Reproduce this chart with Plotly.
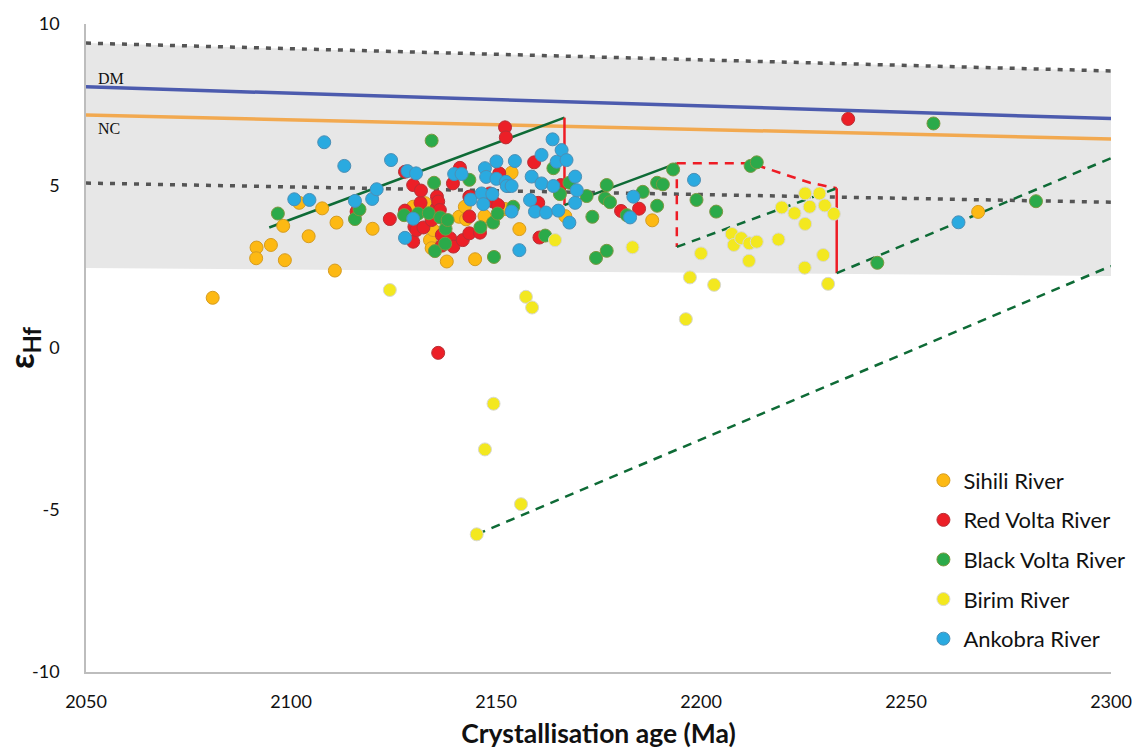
import plotly.graph_objects as go

# ---- Sample data: crystallisation age (Ma) and epsilon-Hf per river ----
sihili_age = [2080.9, 2091.6, 2095.1, 2091.5, 2098.1, 2098.5, 2102.0, 2104.3, 2107.6, 2110.7,
              2111.1, 2119.9, 2129.8, 2132.7, 2133.9, 2134.7, 2134.3, 2138.0, 2141.0, 2142.4,
              2142.7, 2144.9, 2147.2, 2152.2, 2153.8, 2155.7, 2166.9, 2188.1, 2267.6]
sihili_ehf = [1.55, 3.10, 3.18, 2.77, 3.77, 2.71, 4.48, 3.45, 4.31, 2.39,
              3.87, 3.68, 4.36, 4.47, 3.33, 3.64, 3.08, 2.67, 4.05, 4.36,
              3.97, 2.74, 4.07, 4.29, 5.41, 3.67, 4.07, 3.94, 4.20]

red_age = [2116.0, 2124.1, 2127.8, 2127.8, 2129.8, 2129.8, 2130.1, 2130.6, 2131.6, 2131.7,
           2132.3, 2134.3, 2135.5, 2135.6, 2135.9, 2135.9, 2136.3, 2136.8, 2136.8, 2138.8,
           2139.5, 2139.6, 2141.2, 2141.9, 2143.5, 2143.5, 2143.5, 2143.7, 2146.1, 2148.5,
           2149.3, 2150.5, 2150.8, 2152.2, 2152.4, 2159.3, 2160.3, 2160.6, 2165.8, 2180.5,
           2184.9, 2235.9]
red_ehf = [4.21, 3.98, 4.24, 5.44, 5.03, 3.28, 3.74, 3.64, 4.48, 4.86,
           3.72, 3.95, 4.31, 4.67, 4.52, -0.15, 4.26, 3.49, 3.16, 3.39,
           5.08, 3.13, 5.56, 3.33, 3.54, 4.06, 4.67, 4.67, 3.56, 4.77,
           4.52, 4.41, 5.39, 6.81, 6.50, 5.73, 4.48, 3.41, 5.03, 4.23,
           4.30, 7.07]

black_age = [2096.8, 2115.6, 2116.7, 2127.6, 2131.0, 2133.6, 2134.3, 2134.9, 2135.1, 2136.4,
             2137.6, 2137.7, 2138.2, 2143.5, 2146.2, 2149.3, 2149.5, 2150.4, 2154.2, 2162.0,
             2164.0, 2165.6, 2167.9, 2172.1, 2173.5, 2174.4, 2176.6, 2177.0, 2177.0, 2177.8,
             2181.9, 2185.8, 2189.3, 2189.3, 2190.7, 2193.2, 2198.9, 2203.7, 2212.1, 2213.6,
             2243.0, 2256.7, 2281.7]
black_ehf = [4.15, 3.98, 4.28, 4.10, 4.15, 4.16, 6.40, 5.10, 2.99, 4.03,
             3.22, 3.68, 3.95, 5.19, 3.73, 3.87, 2.81, 4.15, 4.36, 3.47,
             5.55, 4.75, 5.10, 4.69, 4.05, 2.78, 4.62, 5.03, 3.00, 4.50,
             4.10, 4.82, 5.10, 4.39, 5.05, 5.51, 4.57, 4.21, 5.62, 5.73,
             2.63, 6.93, 4.53]

birim_age = [2124.1, 2145.3, 2147.3, 2149.4, 2156.1, 2157.3, 2158.8, 2164.4, 2183.3, 2196.3,
             2197.3, 2200.0, 2203.2, 2207.5, 2208.0, 2209.8, 2211.7, 2211.8, 2213.6, 2218.9,
             2219.7, 2222.8, 2225.3, 2225.4, 2225.4, 2226.5, 2228.9, 2229.8, 2230.2, 2231.0,
             2232.4]
birim_ehf = [1.79, -5.75, -3.13, -1.72, -4.82, 1.58, 1.25, 3.33, 3.11, 0.89,
             2.18, 2.92, 1.95, 3.52, 3.18, 3.39, 2.69, 3.23, 3.28, 3.35,
             4.34, 4.16, 2.48, 3.83, 4.77, 4.36, 4.77, 2.87, 4.40, 1.98,
             4.14]

ankobra_age = [2100.8, 2104.5, 2108.1, 2113.0, 2115.6, 2119.8, 2120.9, 2124.4, 2127.8, 2128.4,
               2129.8, 2130.5, 2139.8, 2141.6, 2143.8, 2146.5, 2146.9, 2147.3, 2147.6, 2149.1,
               2150.1, 2150.1, 2152.4, 2152.6, 2153.8, 2153.8, 2154.6, 2155.7, 2158.3, 2158.7,
               2159.5, 2161.1, 2161.1, 2162.2, 2163.8, 2164.0, 2164.8, 2165.2, 2166.0, 2167.2,
               2167.9, 2169.3, 2169.3, 2169.7, 2182.7, 2183.5, 2198.3, 2262.8]
ankobra_ehf = [4.59, 4.57, 6.35, 5.62, 4.54, 4.60, 4.90, 5.80, 3.40, 5.46,
               3.99, 5.39, 5.37, 5.37, 4.58, 4.77, 4.44, 5.55, 5.28, 4.75,
               5.76, 5.22, 5.13, 5.00, 5.00, 4.21, 5.77, 3.02, 4.57, 5.29,
               4.21, 5.96, 5.08, 4.18, 6.44, 5.00, 5.75, 4.24, 6.11, 5.80,
               3.87, 5.29, 4.48, 4.87, 4.03, 4.67, 5.19, 3.88]

# ---- Reference curves (age, epsilon-Hf) ----
band_age = [2050, 2300, 2300, 2050, 2050]
band_ehf = [9.41, 8.55, 2.22, 2.47, 9.41]
upper_dot_age, upper_dot_ehf = [2050, 2300], [9.41, 8.55]
lower_dot_age, lower_dot_ehf = [2050, 2300], [5.09, 4.50]
dm_age, dm_ehf = [2050, 2300], [8.06, 7.08]
nc_age, nc_ehf = [2050, 2300], [7.19, 6.45]

trend1_age, trend1_ehf = [2094.7, 2166.7], [3.72, 7.11]
drop1_age, drop1_ehf = [2166.7, 2166.7], [7.11, 4.41]
trend2_age, trend2_ehf = [2166.7, 2194.1], [4.41, 5.70]
drop2_age, drop2_ehf = [2194.1, 2194.1], [5.70, 3.12]
arc_age = [2194.1, 2211.1, 2214.6, 2218.5, 2226.6, 2233.1]
arc_ehf = [5.70, 5.70, 5.60, 5.44, 5.10, 4.93]
trend3_age, trend3_ehf = [2194.1, 2233.1], [3.12, 4.93]
drop3_age, drop3_ehf = [2233.1, 2233.1], [4.93, 2.31]
trend4_age, trend4_ehf = [2233.1, 2300], [2.31, 5.86]
trend5_age, trend5_ehf = [2145.3, 2300], [-5.75, 2.53]

x_ticks = [2050, 2100, 2150, 2200, 2250, 2300]
y_ticks = [-10, -5, 0, 5, 10]
y_tick_labels = ["-10", "-5", "0", "5", "10"]

DARK_GREEN = "#0E6B36"
RED = "#EE1C25"

fig = go.Figure()

fig.add_trace(go.Scatter(x=band_age, y=band_ehf, mode="lines", fill="toself",
                         fillcolor="#E7E7E7", line=dict(width=0),
                         hoverinfo="skip", showlegend=False))


def line(xs, ys, color, width=2.5, dash="solid"):
    fig.add_trace(go.Scatter(x=xs, y=ys, mode="lines",
                             line=dict(color=color, width=width, dash=dash),
                             hoverinfo="skip", showlegend=False))


line(upper_dot_age, upper_dot_ehf, "#555555", 3.5, "5px,7px")
line(lower_dot_age, lower_dot_ehf, "#555555", 3.5, "5px,7px")
line(dm_age, dm_ehf, "#4C5BAE", 3.5)
line(nc_age, nc_ehf, "#F2A950", 3.5)

line(trend1_age, trend1_ehf, DARK_GREEN)
line(drop1_age, drop1_ehf, RED)
line(trend2_age, trend2_ehf, DARK_GREEN)
line(drop2_age, drop2_ehf, RED, dash="9px,7px")
line(arc_age, arc_ehf, RED, dash="9px,7px")
line(trend3_age, trend3_ehf, DARK_GREEN, dash="9px,7px")
line(drop3_age, drop3_ehf, RED)
line(trend4_age, trend4_ehf, DARK_GREEN, dash="9px,7px")
line(trend5_age, trend5_ehf, DARK_GREEN, dash="9px,7px")

series = [
    ("Sihili River", sihili_age, sihili_ehf, "#FDB913", "#D59C22"),
    ("Red Volta River", red_age, red_ehf, "#EC1F27", "#B83036"),
    ("Black Volta River", black_age, black_ehf, "#2BAA4A", "#7A9840"),
    ("Birim River", birim_age, birim_ehf, "#F3E81F", "#D8D8D0"),
    ("Ankobra River", ankobra_age, ankobra_ehf, "#2AAAE0", "#4D8FB5"),
]
for i, (name, xs, ys, fill, edge) in enumerate(series):
    fig.add_trace(go.Scatter(x=xs, y=ys, mode="markers", name=name,
                             legendgroup=f"g{i}",
                             marker=dict(size=13, color=fill,
                                         line=dict(color=edge, width=1))))

fig.add_annotation(x=2052.4, y=8.33, text="DM", showarrow=False, xanchor="left",
                   font=dict(family="Liberation Serif", size=16, color="#111111"))
fig.add_annotation(x=2052.4, y=6.79, text="NC", showarrow=False, xanchor="left",
                   font=dict(family="Liberation Serif", size=16, color="#111111"))

fig.update_layout(
    width=1132, height=749,
    margin=dict(l=86, r=21, t=24, b=77, autoexpand=False),
    paper_bgcolor="white", plot_bgcolor="white",
    font=dict(family="Lato", color="#111111"),
    legend=dict(x=0.817, y=0.328, xanchor="left", yanchor="top",
                font=dict(size=22, family="Lato", color="#111111"),
                tracegroupgap=8, bgcolor="rgba(0,0,0,0)"),
    xaxis=dict(range=[2050, 2300], tickvals=x_ticks, showgrid=False, zeroline=False,
               showline=True, linecolor="#BDBDBD", linewidth=1.5, ticks="",
               automargin=False,
               ticklabelstandoff=13, tickfont=dict(size=18),
               title=dict(text="<b>Crystallisation age (Ma)</b>",
                          font=dict(size=26.5), standoff=13)),
    yaxis=dict(range=[-10, 10], tickvals=y_ticks, ticktext=y_tick_labels,
               showgrid=False, zeroline=False,
               showline=True, linecolor="#BDBDBD", linewidth=1.5, ticks="",
               automargin=False,
               ticklabelstandoff=21, tickfont=dict(size=18),
               title=dict(text="<b>ε<sub>Hf</sub></b>", font=dict(size=34), standoff=8)),
)

fig.write_html("out.html")
